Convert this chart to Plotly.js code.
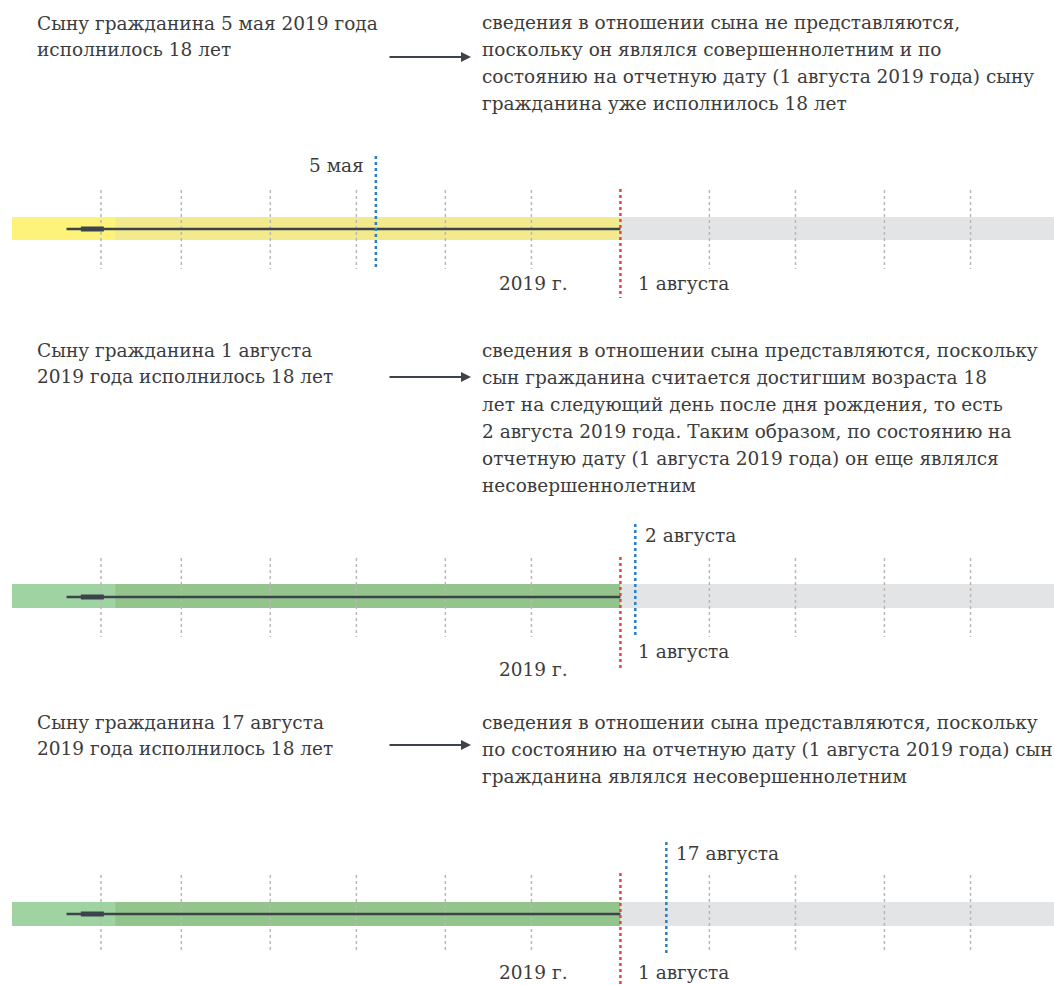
<!DOCTYPE html>
<html>
<head>
<meta charset="utf-8">
<script src="https://cdn.plot.ly/plotly-3.0.1.min.js"></script>
<style>html,body{margin:0;padding:0;background:#fff;}</style>
</head>
<body>
<div id="chart" style="width:1054px;height:985px;"></div>
<script>
// ---- data ----
const monthGrid = ['2019-02-01','2019-03-01','2019-04-01','2019-05-01','2019-06-01','2019-07-01',
                   '2019-09-01','2019-10-01','2019-11-01','2019-12-01'];
const yearStart = '2019-01-01';
const yearEnd = '2019-12-31';
const bandSplit = '2019-02-06';
const lineStart = '2019-01-20';
const reportDate = '2019-08-01';
const reportLabel = '1 августа';
const yearLabel = '2019 г.';
const birthdays = ['2019-05-05', '2019-08-02', '2019-08-17'];
const birthdayLabels = ['5 мая', '2 августа', '17 августа'];
const leftTexts = [
  ['Сыну гражданина 5 мая 2019 года', 'исполнилось 18 лет'],
  ['Сыну гражданина 1 августа', '2019 года исполнилось 18 лет'],
  ['Сыну гражданина 17 августа', '2019 года исполнилось 18 лет']
];
const rightTexts = [
  ['сведения в отношении сына не представляются,',
   'поскольку он являлся совершеннолетним и по',
   'состоянию на отчетную дату (1 августа 2019 года) сыну',
   'гражданина уже исполнилось 18 лет'],
  ['сведения в отношении сына представляются, поскольку',
   'сын гражданина считается достигшим возраста 18',
   'лет на следующий день после дня рождения, то есть',
   '2 августа 2019 года. Таким образом, по состоянию на',
   'отчетную дату (1 августа 2019 года) он еще являлся',
   'несовершеннолетним'],
  ['сведения в отношении сына представляются, поскольку',
   'по состоянию на отчетную дату (1 августа 2019 года) сын',
   'гражданина являлся несовершеннолетним']
];

// ---- layout / styles ----
const W = 1054, H = 985;
const FONT = 'DejaVu Serif';
const FS = 18.5;
const TXT = '#3c3c3c';
const panels = [
  {textY: 23, arrowY: 57, rightY: [22, 49, 76, 103],
   bandTop: 217, bandBot: 240, lineY: 229, gridTop: 190, gridBot: 269,
   blueTop: 156, blueBot: 270, redTop: 189, redBot: 298,
   light: '#fdf37a', dark: '#f3e98d', labelY: 165, labelSide: 'left', blueShift: 8,
   augY: 283, yearY: 283},
  {textY: 350, arrowY: 377, rightY: [350, 377, 404, 431, 458, 485],
   bandTop: 584, bandBot: 608, lineY: 597, gridTop: 558, gridBot: 637,
   blueTop: 524, blueBot: 637, redTop: 557, redBot: 670,
   light: '#9fd4a2', dark: '#93c48b', labelY: 535, labelSide: 'right', blueShift: 12,
   augY: 651, yearY: 669},
  {textY: 722, arrowY: 745, rightY: [722, 749, 776],
   bandTop: 902, bandBot: 926, lineY: 914, gridTop: 875, gridBot: 953,
   blueTop: 842, blueBot: 955, redTop: 873, redBot: 990,
   light: '#9fd4a2', dark: '#93c48b', labelY: 853, labelSide: 'right', blueShift: 0,
   augY: 972, yearY: 972}
];

const shapes = [];
const annotations = [];

panels.forEach((p, i) => {
  // bands
  shapes.push({type:'rect', xref:'x', yref:'y', x0: yearStart, x1: reportDate, y0: p.bandTop, y1: p.bandBot,
               fillcolor: p.light, line:{width:0}, layer:'below'});
  shapes.push({type:'rect', xref:'x', yref:'y', x0: bandSplit, x1: reportDate, y0: p.bandTop, y1: p.bandBot,
               fillcolor: p.dark, line:{width:0}, layer:'below'});
  shapes.push({type:'rect', xref:'x', yref:'y', x0: reportDate, x1: yearEnd, y0: p.bandTop, y1: p.bandBot,
               fillcolor: '#e3e4e6', line:{width:0}, layer:'below'});
  // grid lines
  monthGrid.forEach(d => {
    shapes.push({type:'line', xref:'x', yref:'y', x0: d, x1: d, y0: p.gridTop, y1: p.gridBot,
                 line:{color:'#b8b8b8', width:1.5, dash:'dot'}});
  });
  // timeline line
  shapes.push({type:'line', xref:'x', yref:'y', x0: lineStart, x1: reportDate, y0: p.lineY, y1: p.lineY,
               line:{color:'#3d434b', width:2.5}});
  shapes.push({type:'line', xref:'x', yref:'y', x0: '2019-01-25', x1: '2019-02-02', y0: p.lineY, y1: p.lineY,
               line:{color:'#3d434b', width:5}});
  // birthday (blue) line
  shapes.push({type:'line', xref:'x', yref:'y', xsizemode:'pixel', xanchor: birthdays[i],
               x0: p.blueShift, x1: p.blueShift, y0: p.blueTop, y1: p.blueBot,
               line:{color:'#2b7fc2', width:2.5, dash:'dot'}});
  // report date (red) line
  shapes.push({type:'line', xref:'x', yref:'y', x0: reportDate, x1: reportDate, y0: p.redTop, y1: p.redBot,
               line:{color:'#e8453e', width:2.5, dash:'dot'}});

  // left texts
  leftTexts[i].forEach((t, k) => {
    annotations.push({xref:'paper', yref:'y', x: 35/W, y: p.textY + k*26.5, text: t, showarrow:false,
                      xanchor:'left', yanchor:'middle', font:{family:FONT, size:FS, color:TXT}});
  });
  // right texts
  rightTexts[i].forEach((t, k) => {
    annotations.push({xref:'paper', yref:'y', x: 480/W, y: p.rightY[k], text: t, showarrow:false,
                      xanchor:'left', yanchor:'middle', font:{family:FONT, size:FS, color:TXT}});
  });
  // arrow
  annotations.push({xref:'paper', yref:'y', x: 471/W, y: p.arrowY, ax: -83, ay: 0, text:'',
                    showarrow:true, arrowhead:2, arrowsize:1, arrowwidth:2, arrowcolor:'#3d434b'});
  // birthday label
  if (p.labelSide === 'left') {
    annotations.push({xref:'x', yref:'y', x: birthdays[i], y: p.labelY, text: birthdayLabels[i], showarrow:false,
                      xanchor:'right', yanchor:'middle', xshift: p.blueShift - 10, font:{family:FONT, size:FS, color:TXT}});
  } else {
    annotations.push({xref:'x', yref:'y', x: birthdays[i], y: p.labelY, text: birthdayLabels[i], showarrow:false,
                      xanchor:'left', yanchor:'middle', xshift: p.blueShift + 8, font:{family:FONT, size:FS, color:TXT}});
  }
  // report date label
  annotations.push({xref:'x', yref:'y', x: reportDate, y: p.augY, text: reportLabel, showarrow:false,
                    xanchor:'left', yanchor:'middle', xshift: 16, font:{family:FONT, size:FS, color:TXT}});
  // year label
  annotations.push({xref:'x', yref:'y', x: reportDate, y: p.yearY, text: yearLabel, showarrow:false,
                    xanchor:'right', yanchor:'middle', xshift: -50, font:{family:FONT, size:FS, color:TXT}});
});

const layout = {
  width: W, height: H,
  margin: {l:0, r:0, t:0, b:0},
  paper_bgcolor: '#ffffff', plot_bgcolor: '#ffffff',
  showlegend: false,
  xaxis: {type:'date', range: ['2018-12-27 19:40', '2019-12-30 02:00'], visible:false, fixedrange:true},
  yaxis: {range: [H, 0], visible:false, fixedrange:true},
  shapes: shapes,
  annotations: annotations
};

// an empty trace keeps the axes active
Plotly.newPlot('chart', [{x: [yearStart], y: [-100], type:'scatter', mode:'markers', hoverinfo:'skip',
                          marker:{opacity:0}}], layout, {displayModeBar:false, staticPlot:true});
</script>
</body>
</html>
